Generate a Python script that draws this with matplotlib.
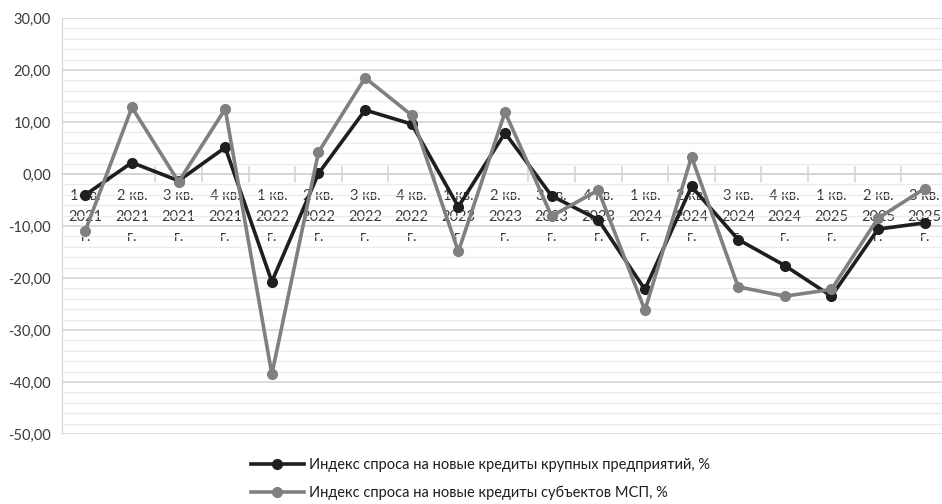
import matplotlib
matplotlib.use("Agg")
import matplotlib.pyplot as plt
from matplotlib.ticker import FuncFormatter, MultipleLocator

plt.rcParams['font.family'] = ['Lato', 'Noto Sans', 'DejaVu Sans']

quarters = ["1 кв.\n2021\nг.", "2 кв.\n2021\nг.", "3 кв.\n2021\nг.", "4 кв.\n2021\nг.",
            "1 кв.\n2022\nг.", "2 кв.\n2022\nг.", "3 кв.\n2022\nг.", "4 кв.\n2022\nг.",
            "1 кв.\n2023\nг.", "2 кв.\n2023\nг.", "3 кв.\n2023\nг.", "4 кв.\n2023\nг.",
            "1 кв.\n2024\nг.", "2 кв.\n2024\nг.", "3 кв.\n2024\nг.", "4 кв.\n2024\nг.",
            "1 кв.\n2025\nг.", "2 кв.\n2025\nг.", "3 кв.\n2025\nг."]

large = [-4.0, 2.2, -1.3, 5.1, -20.7, 0.1, 12.3, 9.6, -6.3, 7.9, -4.2, -8.8,
         -22.2, -2.4, -12.6, -17.6, -23.5, -10.6, -9.4]
sme = [-10.9, 12.8, -1.5, 12.5, -38.5, 4.2, 18.5, 11.3, -14.9, 11.9, -8.1, -3.1,
       -26.2, 3.3, -21.7, -23.5, -22.2, -8.5, -2.8]

label_large = "Индекс спроса на новые кредиты крупных предприятий, %"
label_sme = "Индекс спроса на новые кредиты субъектов МСП, %"

fig = plt.figure(figsize=(9.42, 5.04), dpi=100)
ax = fig.add_axes([62 / 942, 70 / 504, (948 - 62) / 942, 416 / 504])

x = list(range(len(quarters)))
ax.plot(x, large, color="#1e1e1e", lw=2.6, marker="o", ms=7, label=label_large, zorder=3)
ax.plot(x, sme, color="#808080", lw=2.6, marker="o", ms=7, label=label_sme, zorder=4)

ax.set_ylim(-50, 30)
ax.set_xlim(-0.5, len(quarters) - 0.5)

# grid
ax.yaxis.set_major_locator(MultipleLocator(10))
ax.yaxis.set_minor_locator(MultipleLocator(2))
ax.grid(axis="y", which="major", color="#d4d4d4", lw=1.2, zorder=0)
ax.grid(axis="y", which="minor", color="#ebebeb", lw=1.0, zorder=0)
ax.yaxis.set_major_formatter(FuncFormatter(lambda v, p: f"{v:.2f}".replace(".", ",")))
ax.tick_params(axis="y", which="both", length=0, labelsize=10.5, labelcolor="#3a3a3a", pad=8)

# x axis on the zero line
for s in ["top", "right"]:
    ax.spines[s].set_visible(False)
ax.spines["left"].set_color("#d4d4d4")
ax.spines["bottom"].set_position(("data", 0))
ax.spines["bottom"].set_color("#d4d4d4")
ax.spines["bottom"].set_linewidth(1.2)
ax.set_xticks(x)
ax.set_xticklabels(quarters, linespacing=1.6)
ax.set_xticks([i - 0.5 for i in x[1:]], minor=True)
ax.tick_params(axis="x", which="major", length=0, pad=11, labelsize=10.5, labelcolor="#3a3a3a")
ax.tick_params(axis="x", which="minor", direction="inout", length=12, width=1.2, color="#d4d4d4")

fig.legend(loc="upper center", bbox_to_anchor=(0.51, 0.118), ncol=1, frameon=False,
           fontsize=10.5, handlelength=3.6, labelspacing=0.95, handletextpad=0.35,
           labelcolor="#1e1e1e")

fig.savefig("out.png", dpi=100)
